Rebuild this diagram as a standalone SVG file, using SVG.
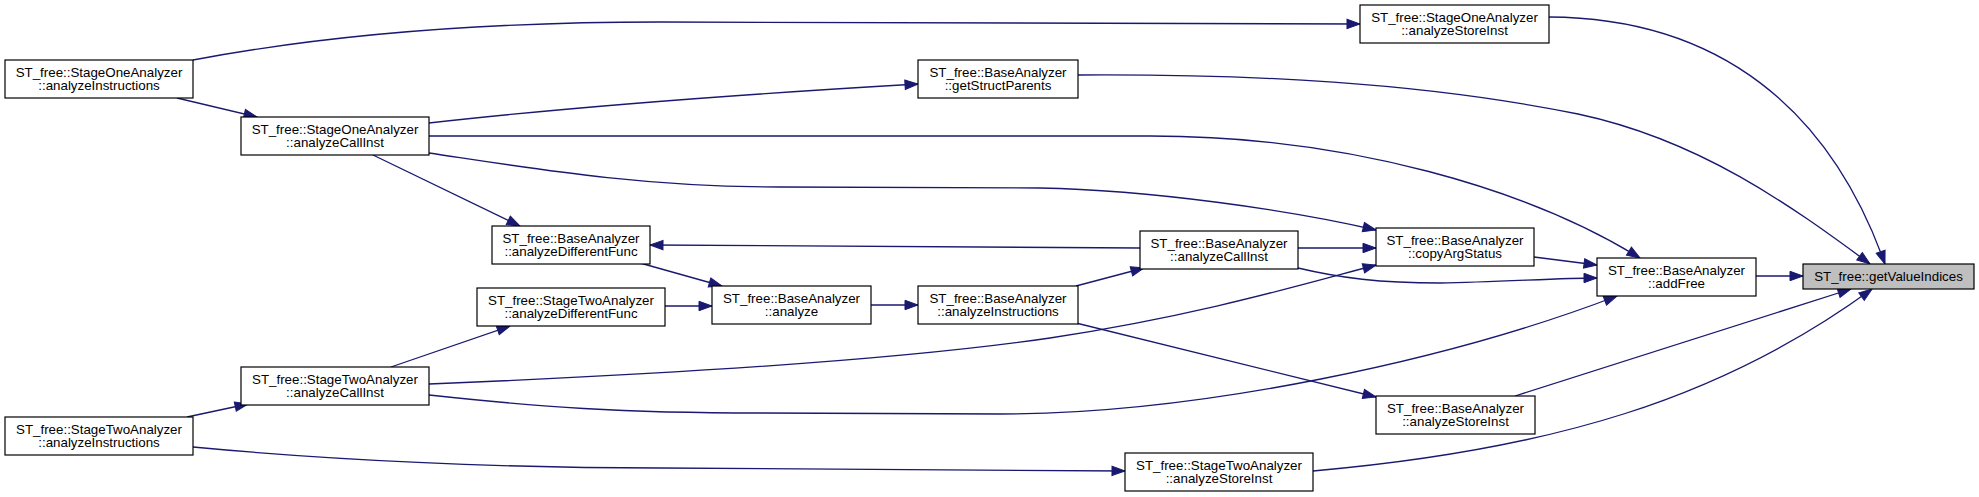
<svg xmlns="http://www.w3.org/2000/svg" width="1979" height="497" viewBox="0 0 1979 497">
<style>
.n rect{fill:#ffffff;stroke:#000000;stroke-width:1.2}
.n.hl rect{fill:#bfbfbf}
.n text{font-family:"Liberation Sans",Arial,Helvetica,sans-serif;font-size:13.33px;fill:#000000;text-anchor:middle}
.e path{fill:none;stroke:#191970;stroke-width:1.3;marker-end:url(#ah)}
</style>
<defs>
<marker id="ah" markerUnits="userSpaceOnUse" viewBox="0 0 13 10" refX="13" refY="5" markerWidth="13" markerHeight="10" orient="auto" overflow="visible">
<path d="M0,0.3 L13,5 L0,9.7 z" fill="#191970" stroke="#191970" stroke-width="1"/>
</marker>
</defs>
<rect width="1979" height="497" fill="#ffffff"/>
<g id="edges" class="e">
<path d="M193,60 C320,36 480,22 660,22 L1360,24"/>
<path d="M177,98 L257,117"/>
<path d="M429,123 C580,106 780,92 918,84"/>
<path d="M1078,75 C1250,74 1420,82 1578,114 C1700,140 1790,205 1870,264"/>
<path d="M1549,17 C1720,18 1830,110 1885,264"/>
<path d="M429,136 L1150,136 C1350,136 1530,190 1640,258"/>
<path d="M429,153 C530,168 640,187 780,187 L1040,188 C1150,190 1290,210 1376,230"/>
<path d="M373,155 L520,226"/>
<path d="M1140,248 L650,245"/>
<path d="M1298,248 L1376,248"/>
<path d="M1298,268 C1340,278 1380,283 1440,283 C1500,282 1560,278 1597,278"/>
<path d="M1534,257 L1597,265"/>
<path d="M429,384 C650,375 900,360 1050,338 C1200,315 1300,285 1376,265"/>
<path d="M429,395 C540,407 620,413 760,413 L1000,414 C1200,414 1450,360 1617,296"/>
<path d="M640,263 L722,286"/>
<path d="M665,306 L712,306"/>
<path d="M871,305 L918,305"/>
<path d="M1076,286 L1144,268"/>
<path d="M1076,323 L1376,397"/>
<path d="M1515,396 L1851,289"/>
<path d="M1313,471 C1550,450 1720,400 1872,289"/>
<path d="M1756,276 L1803,276"/>
<path d="M187,417 L248,404"/>
<path d="M391,367 L510,326"/>
<path d="M193,447 C330,460 500,468 660,468 L1125,471"/>
</g>
<g id="S1AI" class="n"><rect x="5" y="60" width="188" height="38"/><text x="99" y="77">ST_free::StageOneAnalyzer</text><text x="99" y="90">::analyzeInstructions</text></g>
<g id="S1CI" class="n"><rect x="241" y="117" width="188" height="38"/><text x="335" y="134">ST_free::StageOneAnalyzer</text><text x="335" y="147">::analyzeCallInst</text></g>
<g id="S2AI" class="n"><rect x="5" y="417" width="188" height="38"/><text x="99" y="434">ST_free::StageTwoAnalyzer</text><text x="99" y="447">::analyzeInstructions</text></g>
<g id="S2CI" class="n"><rect x="241" y="367" width="188" height="38"/><text x="335" y="384">ST_free::StageTwoAnalyzer</text><text x="335" y="397">::analyzeCallInst</text></g>
<g id="BADF" class="n"><rect x="492" y="226" width="158" height="38"/><text x="571" y="243">ST_free::BaseAnalyzer</text><text x="571" y="256">::analyzeDifferentFunc</text></g>
<g id="S2DF" class="n"><rect x="477" y="288" width="188" height="38"/><text x="571" y="305">ST_free::StageTwoAnalyzer</text><text x="571" y="318">::analyzeDifferentFunc</text></g>
<g id="BA" class="n"><rect x="712" y="286" width="159" height="38"/><text x="791.5" y="303">ST_free::BaseAnalyzer</text><text x="791.5" y="316">::analyze</text></g>
<g id="BAI" class="n"><rect x="918" y="286" width="160" height="38"/><text x="998" y="303">ST_free::BaseAnalyzer</text><text x="998" y="316">::analyzeInstructions</text></g>
<g id="GSP" class="n"><rect x="918" y="60" width="160" height="38"/><text x="998" y="77">ST_free::BaseAnalyzer</text><text x="998" y="90">::getStructParents</text></g>
<g id="BCI" class="n"><rect x="1140" y="231" width="158" height="38"/><text x="1219" y="248">ST_free::BaseAnalyzer</text><text x="1219" y="261">::analyzeCallInst</text></g>
<g id="S2SI" class="n"><rect x="1125" y="453" width="188" height="38"/><text x="1219" y="470">ST_free::StageTwoAnalyzer</text><text x="1219" y="483">::analyzeStoreInst</text></g>
<g id="S1SI" class="n"><rect x="1360" y="5" width="189" height="38"/><text x="1454.5" y="22">ST_free::StageOneAnalyzer</text><text x="1454.5" y="35">::analyzeStoreInst</text></g>
<g id="CAS" class="n"><rect x="1376" y="228" width="158" height="38"/><text x="1455" y="245">ST_free::BaseAnalyzer</text><text x="1455" y="258">::copyArgStatus</text></g>
<g id="BSI" class="n"><rect x="1376" y="396" width="159" height="38"/><text x="1455.5" y="413">ST_free::BaseAnalyzer</text><text x="1455.5" y="426">::analyzeStoreInst</text></g>
<g id="AF" class="n"><rect x="1597" y="258" width="159" height="38"/><text x="1676.5" y="275">ST_free::BaseAnalyzer</text><text x="1676.5" y="288">::addFree</text></g>
<g id="GVI" class="n hl"><rect x="1803" y="264" width="171" height="25"/><text x="1888.5" y="281">ST_free::getValueIndices</text></g>
</svg>
